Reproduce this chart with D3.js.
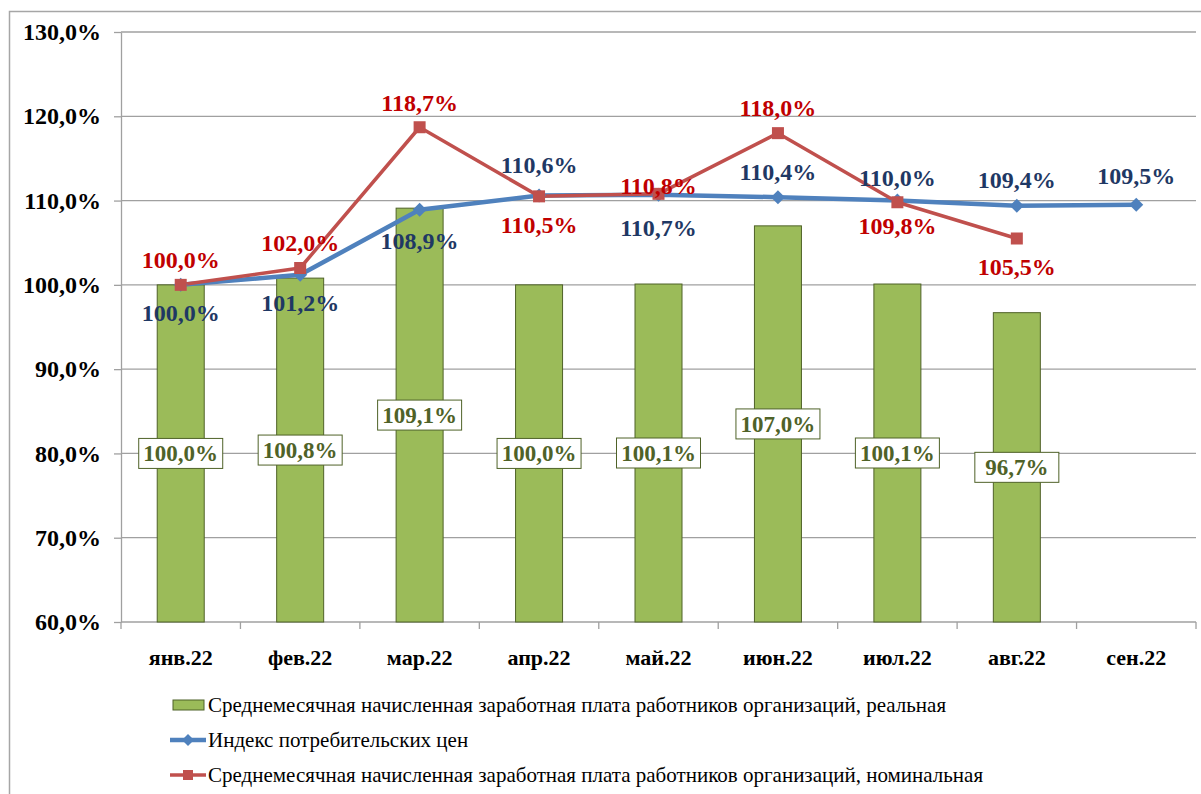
<!DOCTYPE html>
<html>
<head>
<meta charset="utf-8">
<script src="https://cdn.jsdelivr.net/npm/d3@7"></script>
<style>
  body { margin: 0; background: #fff; }
  svg, svg text { font-family: "Liberation Serif" !important; }
</style>
</head>
<body>
<svg id="chart" width="1201" height="794" font-family="Liberation Serif"></svg>
<script>
// data
var months = ["янв.22", "фев.22", "мар.22", "апр.22", "май.22", "июн.22", "июл.22", "авг.22", "сен.22"];
var realWage = [100.0, 100.8, 109.1, 100.0, 100.1, 107.0, 100.1, 96.7];
var cpi = [100.0, 101.2, 108.9, 110.6, 110.7, 110.4, 110.0, 109.4, 109.5];
var nominalWage = [100.0, 102.0, 118.7, 110.5, 110.8, 118.0, 109.8, 105.5];
var yTicks = [60, 70, 80, 90, 100, 110, 120, 130];
var legendNames = [
  "Среднемесячная начисленная заработная плата работников организаций, реальная",
  "Индекс потребительских цен",
  "Среднемесячная начисленная заработная плата работников организаций, номинальная"
];

// label placement (pixel offsets from the point)
var cpiLabelDy = [28, 28, 31, -31, 33, -26, -23, -26, -29];
var nomLabelDy = [-25, -25, -25, 28, -8, -26, 23, 28];

var svgWidth = 1201;
var svgHeight = 794;
var margin = { top: 32, right: 5, bottom: 172, left: 121 };
var width = svgWidth - margin.left - margin.right;
var height = svgHeight - margin.top - margin.bottom;

var fmt = function(v) { return d3.format(".1f")(v).replace(".", ",") + "%"; };

var svg = d3.select("#chart");

// outer border
svg.append("rect")
  .attr("x", 9.5).attr("y", 11.5)
  .attr("width", 1200).attr("height", 800)
  .attr("fill", "none")
  .attr("stroke", "#a6a6a6")
  .attr("stroke-width", 1.5);

var g = svg.append("g")
  .attr("transform", `translate(${margin.left}, ${margin.top})`);

var x = d3.scaleBand().domain(months).range([0, width]);
var y = d3.scaleLinear().domain([60, 130]).range([height, 0]);

// gridlines
g.append("g").selectAll("line")
  .data(yTicks.slice(1))
  .enter().append("line")
  .attr("x1", 0).attr("x2", width)
  .attr("y1", d => y(d)).attr("y2", d => y(d))
  .attr("stroke", "#a0a0a0").attr("stroke-width", 1.3);

// y axis
var yAxis = g.append("g")
  .call(d3.axisLeft(y).tickValues(yTicks).tickFormat(d => fmt(d)).tickSize(7).tickSizeOuter(0));
yAxis.attr("font-family", "Liberation Serif");
yAxis.select(".domain").attr("stroke", "#a0a0a0").attr("stroke-width", 1.3);
yAxis.selectAll(".tick line").attr("stroke", "#a0a0a0").attr("stroke-width", 1.3);
yAxis.selectAll(".tick text")
  .attr("x", -20)
  .attr("font-size", 24).attr("font-weight", "bold").attr("fill", "#000");

// x axis: ticks at category boundaries
var xAxis = g.append("g").attr("transform", `translate(0, ${height})`);
xAxis.append("line").attr("x1", 0).attr("x2", width).attr("stroke", "#a0a0a0").attr("stroke-width", 1.3);
xAxis.selectAll(".bnd")
  .data(months.concat([null]))
  .enter().append("line")
  .attr("x1", (d, i) => i * x.step()).attr("x2", (d, i) => i * x.step())
  .attr("y1", 0).attr("y2", 7)
  .attr("stroke", "#a0a0a0").attr("stroke-width", 1.3);
xAxis.selectAll("text")
  .data(months)
  .enter().append("text")
  .attr("x", d => x(d) + x.bandwidth() / 2)
  .attr("y", 43)
  .attr("text-anchor", "middle")
  .attr("font-size", 22).attr("font-weight", "bold")
  .text(d => d);

// bars
var barW = 47;
g.append("g").selectAll("rect")
  .data(realWage)
  .enter().append("rect")
  .attr("x", (d, i) => x(months[i]) + x.bandwidth() / 2 - barW / 2)
  .attr("y", d => y(d))
  .attr("width", barW)
  .attr("height", d => height - y(d))
  .attr("fill", "#9bbb59")
  .attr("stroke", "#4f6228").attr("stroke-width", 1);

// bar labels (boxes in the middle of each bar)
var barLabels = g.append("g").selectAll("g")
  .data(realWage)
  .enter().append("g")
  .attr("transform", (d, i) => `translate(${x(months[i]) + x.bandwidth() / 2}, ${(y(d) + height) / 2})`);
barLabels.append("rect")
  .attr("x", -42).attr("y", -15)
  .attr("width", 84).attr("height", 30)
  .attr("fill", "#fff").attr("stroke", "#4f6228").attr("stroke-width", 1);
barLabels.append("text")
  .attr("text-anchor", "middle")
  .attr("dy", "0.35em")
  .attr("font-size", 23).attr("font-weight", "bold")
  .attr("fill", "#4f6228")
  .text(d => fmt(d));

var cx = (d, i) => x(months[i]) + x.bandwidth() / 2;
var line = d3.line().x((d, i) => cx(d, i)).y(d => y(d));

// CPI line
g.append("path")
  .datum(cpi)
  .attr("d", line)
  .attr("fill", "none")
  .attr("stroke", "#4f81bd").attr("stroke-width", 4.5)
  .attr("stroke-linejoin", "round");

// nominal wage line
g.append("path")
  .datum(nominalWage)
  .attr("d", line)
  .attr("fill", "none")
  .attr("stroke", "#c0504d").attr("stroke-width", 3.5)
  .attr("stroke-linejoin", "round");

// CPI diamonds
g.append("g").selectAll("path")
  .data(cpi)
  .enter().append("path")
  .attr("transform", (d, i) => `translate(${cx(d, i)}, ${y(d)})`)
  .attr("d", "M0,-7L7,0L0,7L-7,0Z")
  .attr("fill", "#4f81bd");

// nominal squares
g.append("g").selectAll("rect")
  .data(nominalWage)
  .enter().append("rect")
  .attr("x", (d, i) => cx(d, i) - 6)
  .attr("y", d => y(d) - 6)
  .attr("width", 12).attr("height", 12)
  .attr("fill", "#c0504d");

// line labels
g.append("g").selectAll("text")
  .data(cpi)
  .enter().append("text")
  .attr("x", (d, i) => cx(d, i))
  .attr("y", (d, i) => y(d) + cpiLabelDy[i])
  .attr("dy", "0.35em")
  .attr("text-anchor", "middle")
  .attr("font-size", 24).attr("font-weight", "bold")
  .attr("fill", "#1f3864")
  .text(d => fmt(d));

g.append("g").selectAll("text")
  .data(nominalWage)
  .enter().append("text")
  .attr("x", (d, i) => cx(d, i))
  .attr("y", (d, i) => y(d) + nomLabelDy[i])
  .attr("dy", "0.35em")
  .attr("text-anchor", "middle")
  .attr("font-size", 24).attr("font-weight", "bold")
  .attr("fill", "#c00000")
  .text(d => fmt(d));

// legend
var legend = svg.append("g").attr("transform", "translate(170, 705)");
var items = legend.selectAll("g")
  .data(legendNames)
  .enter().append("g")
  .attr("transform", (d, i) => `translate(0, ${i * 35})`);

items.filter((d, i) => i === 0).append("rect")
  .attr("x", 3).attr("y", -5).attr("width", 31).attr("height", 10)
  .attr("fill", "#9bbb59").attr("stroke", "#4f6228").attr("stroke-width", 1);

items.filter((d, i) => i === 1).append("line")
  .attr("x1", 0).attr("x2", 36).attr("stroke", "#4f81bd").attr("stroke-width", 4.5);
items.filter((d, i) => i === 1).append("path")
  .attr("transform", "translate(18,0)")
  .attr("d", "M0,-6L6,0L0,6L-6,0Z").attr("fill", "#4f81bd");

items.filter((d, i) => i === 2).append("line")
  .attr("x1", 0).attr("x2", 36).attr("stroke", "#c0504d").attr("stroke-width", 3.5);
items.filter((d, i) => i === 2).append("rect")
  .attr("x", 13).attr("y", -5).attr("width", 10).attr("height", 10).attr("fill", "#c0504d");

items.append("text")
  .attr("x", 38)
  .attr("dy", "0.35em")
  .attr("font-size", 21)
  .attr("fill", "#000")
  .text(d => d);

// serif on every text element
svg.selectAll("text")
  .attr("font-family", "Liberation Serif")
  .style("font-family", '"Liberation Serif"', "important");
</script>
</body>
</html>
